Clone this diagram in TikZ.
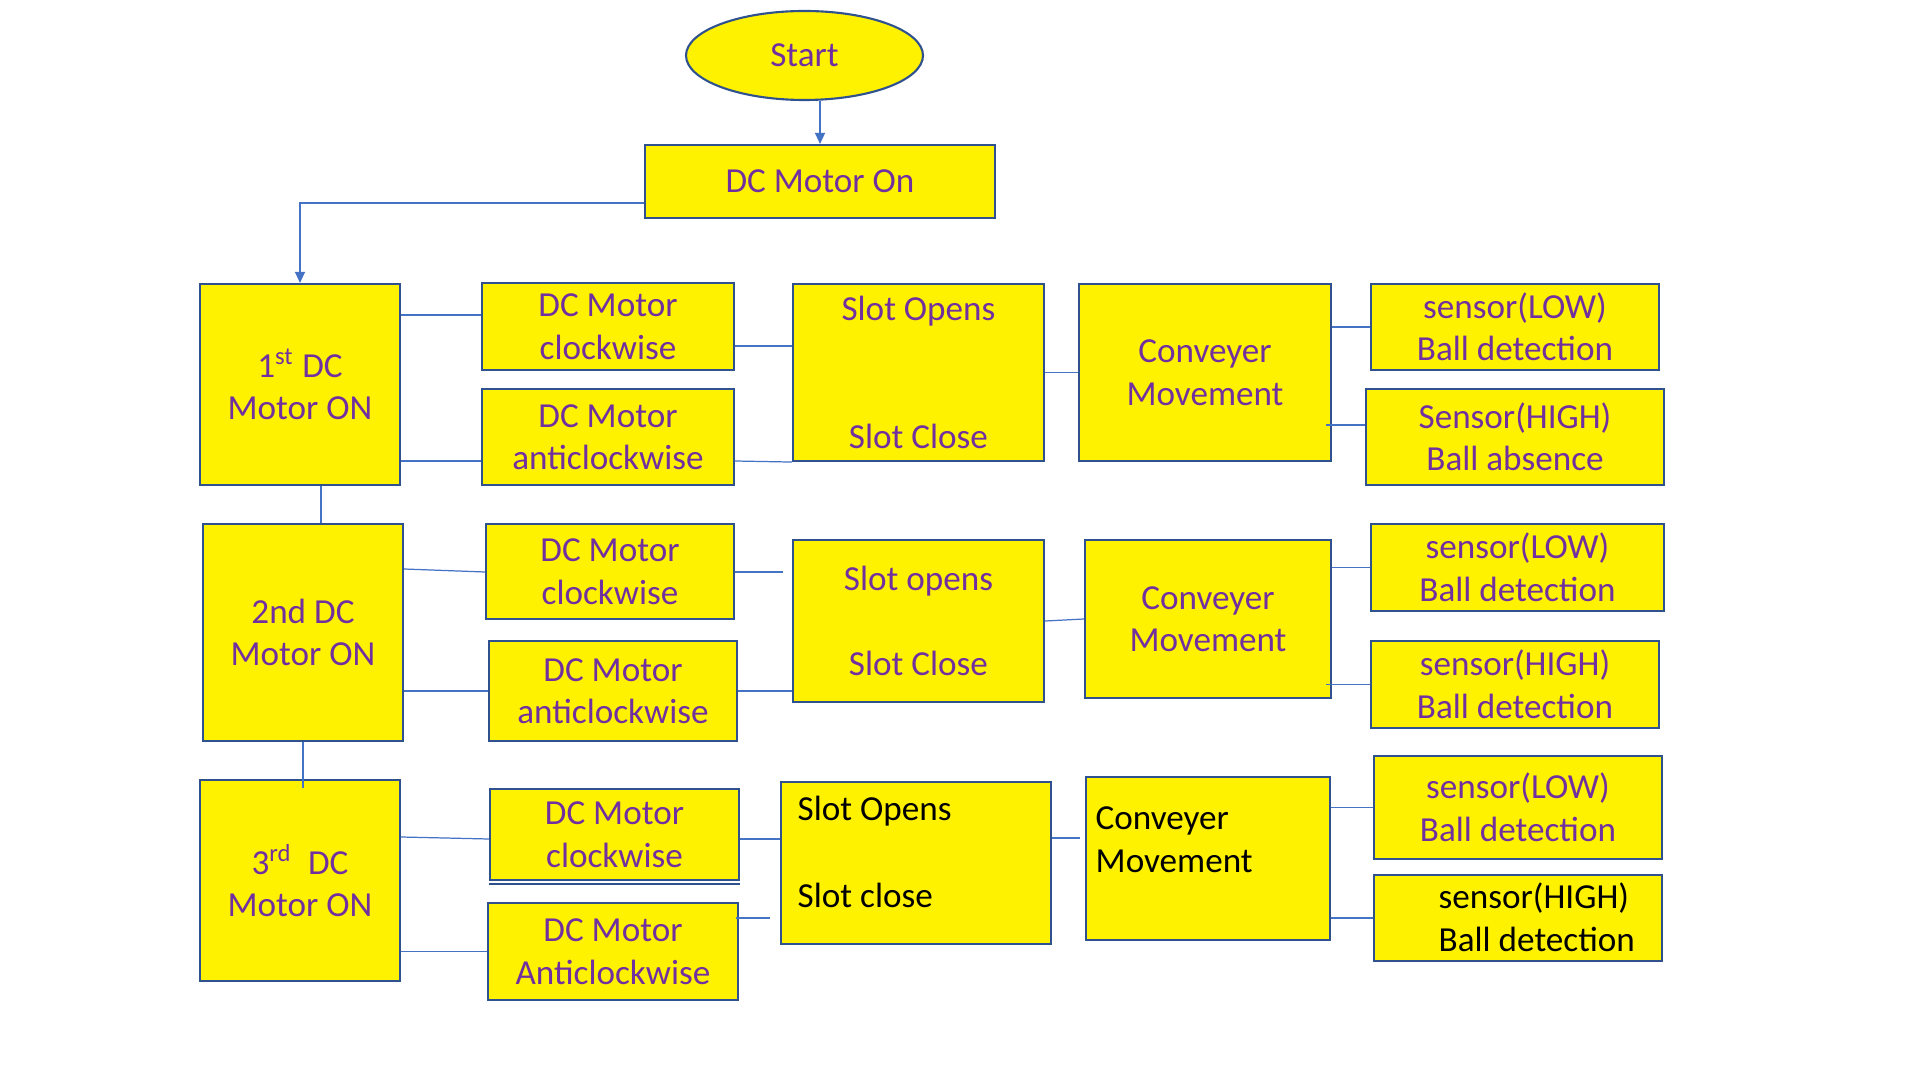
\documentclass[tikz,border=0pt]{standalone}
\usepackage{fontspec}
\setmainfont{Carlito}
\usetikzlibrary{shapes.geometric,arrows.meta}
\definecolor{boxblue}{HTML}{2F528F}
\definecolor{lineblue}{HTML}{4472C4}
\definecolor{txtpurple}{HTML}{7030A0}
\tikzset{
	box/.style={draw=boxblue, fill=yellow, line width=0.6pt, text=txtpurple, align=center, inner sep=0pt, font=\fontsize{10}{12.1}\selectfont},
	txt/.style={inner sep=0pt, align=left, font=\fontsize{10}{12.1}\selectfont},
	conn/.style={draw=lineblue, line width=0.35pt},
	arrowtip/.style={-{Triangle[width=1mm,length=1.1mm]}},
}

\begin{document}
\begin{tikzpicture}[x=1cm,y=-1cm]
\useasboundingbox (0,0) rectangle (19.2,10.8);

\node[box, ellipse, minimum width=2.37cm, minimum height=0.89cm] (start) at (8.045,0.555) {Start};
\node[box, minimum width=3.50cm, minimum height=0.73cm] (on) at (8.20,1.815) {DC Motor On};

\node[box, minimum width=2.00cm, minimum height=2.01cm] (dc1) at (3.00,3.845) {1\textsuperscript{st} DC\\Motor ON};
\node[box, minimum width=2.52cm, minimum height=0.87cm] (cw1) at (6.08,3.265) {DC Motor\\clockwise};
\node[box, minimum width=2.52cm, minimum height=0.96cm] (acw1) at (6.08,4.37) {DC Motor\\anticlockwise};
\node[box, minimum width=2.51cm, minimum height=1.77cm] (slot1) at (9.185,3.725) {Slot Opens\\[0.86cm]Slot Close};
\node[box, minimum width=2.52cm, minimum height=1.77cm] (conv1) at (12.05,3.725) {Conveyer\\Movement};
\node[box, minimum width=2.88cm, minimum height=0.86cm] (low1) at (15.15,3.27) {sensor(LOW)\\Ball detection};
\node[box, minimum width=2.98cm, minimum height=0.96cm] (high1) at (15.15,4.37) {Sensor(HIGH)\\Ball absence};

\node[box, minimum width=2.00cm, minimum height=2.17cm] (dc2) at (3.03,6.325) {2nd DC\\Motor ON};
\node[box, minimum width=2.48cm, minimum height=0.95cm] (cw2) at (6.10,5.715) {DC Motor\\clockwise};
\node[box, minimum width=2.48cm, minimum height=1.00cm] (acw2) at (6.13,6.91) {DC Motor\\anticlockwise};
\node[box, minimum width=2.51cm, minimum height=1.62cm] (slot2) at (9.185,6.21) {Slot opens\\[0.43cm]Slot Close};
\node[box, minimum width=2.46cm, minimum height=1.58cm] (conv2) at (12.08,6.19) {Conveyer\\Movement};
\node[box, minimum width=2.93cm, minimum height=0.87cm] (low2) at (15.175,5.675) {sensor(LOW)\\Ball detection};
\node[box, minimum width=2.88cm, minimum height=0.87cm] (high2) at (15.15,6.845) {sensor(HIGH)\\Ball detection};

\node[box, minimum width=2.00cm, minimum height=2.01cm] (dc3) at (3.00,8.805) {3\textsuperscript{rd}\ \ DC\\Motor ON};
\node[box, minimum width=2.49cm, minimum height=0.91cm] (cw3) at (6.145,8.345) {DC Motor\\clockwise};
\node[box, minimum width=2.50cm, minimum height=0.97cm] (acw3) at (6.13,9.515) {DC Motor\\Anticlockwise};
\node[box, minimum width=2.70cm, minimum height=1.62cm] (slot3) at (9.16,8.63) {};
\node[txt, anchor=west] (slot3txt) at (7.97,8.52) {Slot Opens\\[0.44cm]Slot close};
\node[box, minimum width=2.44cm, minimum height=1.63cm] (conv3) at (12.08,8.585) {};
\node[txt, anchor=west] (conv3txt) at (10.95,8.395) {Conveyer\\Movement};
\node[box, minimum width=2.88cm, minimum height=1.03cm] (low3) at (15.18,8.075) {sensor(LOW)\\Ball detection};
\node[box, minimum width=2.88cm, minimum height=0.86cm] (high3) at (15.18,9.18) {};
\node[txt, anchor=west] (high3txt) at (14.38,9.175) {sensor(HIGH)\\Ball detection};
\draw[boxblue, line width=0.6pt] ([yshift=-0.25mm]cw3.south west) -- ([yshift=-0.25mm]cw3.south east);

\coordinate (cw2end) at (7.83,5.72);
\coordinate (dc2end) at (3.03,7.88);
\coordinate (acw3end) at (7.70,9.18);
\coordinate (slot3end) at (10.80,8.38);

\draw[conn, arrowtip] (start.south -| on.north) -- (on.north);
\draw[conn, arrowtip] (on.west |- 0,2.03) -| (dc1.north);

\draw[conn] (dc1.east |- 0,3.15) -- (cw1.west |- 0,3.15);
\draw[conn] (dc1.east |- 0,4.61) -- (acw1.west |- 0,4.61);
\draw[conn] (dc1.south -| 3.21,0) -- (dc2.north -| 3.21,0);
\draw[conn] (cw1.east |- 0,3.46) -- (slot1.west |- 0,3.46);
\draw[conn] (acw1.east |- 0,4.61) -- (slot1.south west);
\draw[conn] (slot1.east) -- (conv1.west);
\draw[conn] (conv1.east |- low1.west) -- (low1.west);
\draw[conn] ([xshift=-0.6mm]conv1.east |- 0,4.25) -- (high1.west |- 0,4.25);

\draw[conn] (dc2.east |- 0,5.69) -- (cw2.west |- 0,5.72);
\draw[conn] (dc2.east |- acw2.west) -- (acw2.west);
\draw[conn] (cw2.east |- cw2end) -- (cw2end);
\draw[conn] (acw2.east) -- (slot2.west |- acw2.east);
\draw[conn] (slot2.east) -- (conv2.west);
\draw[conn] (conv2.east |- low2.west) -- (low2.west);
\draw[conn] ([xshift=-0.6mm]conv2.east |- high2.west) -- (high2.west);
\draw[conn] (dc2.south -| dc2end) -- (dc2end);

\draw[conn] (dc3.east |- 0,8.37) -- (cw3.west |- 0,8.39);
\draw[conn] (dc3.east |- acw3.west) -- (acw3.west);
\draw[conn] (cw3.east |- 0,8.39) -- (slot3.west |- 0,8.39);
\draw[conn] ([xshift=-0.3mm]acw3.east |- acw3end) -- (acw3end);
\draw[conn] (slot3.east |- slot3end) -- (slot3end);
\draw[conn] (conv3.east |- low3.west) -- (low3.west);
\draw[conn] (conv3.east |- high3.west) -- (high3.west);
\end{tikzpicture}
\end{document}
